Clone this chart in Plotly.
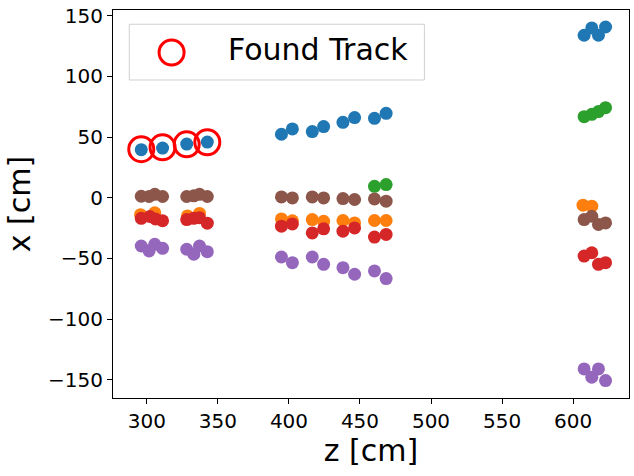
import plotly.graph_objects as go

# ---------------- data (z [cm], x [cm]) ----------------
blue_z = [296, 311, 328, 342.5, 394.7, 402.4, 416.4, 424.4, 438, 446.2, 460.2, 468.4, 607.8, 613.2, 617.9, 622.9]
blue_x = [39.6, 40.9, 44.2, 45.8, 52.3, 56.7, 54.5, 58.6, 62.1, 66.0, 65.4, 69.5, 133.9, 139.9, 133.9, 140.7]

orange_z = [295.5, 305.5, 328.5, 337, 394.7, 402.4, 416.4, 424.4, 438, 446.2, 460.2, 468.4, 607.0, 613.2]
orange_x = [-14, -12.5, -15, -13, -17.5, -19.0, -18.0, -19.4, -18.8, -20.8, -18.8, -18.8, -6.2, -7.0]

green_z = [460.2, 468.4, 607.8, 613.2, 617.9, 622.9]
green_x = [9.4, 10.8, 66.8, 68.7, 71.0, 74.2]

red_z = [296, 302, 306, 311, 328, 333, 337, 342.5, 394.7, 402.4, 416.4, 424.4, 438, 446.2, 460.2, 468.4, 607.8, 613.2, 617.9, 622.9]
red_x = [-17, -15.5, -17.5, -19, -18, -17, -16.5, -21, -23.5, -21.6, -29.0, -25.7, -27.6, -24.9, -32.5, -30.3, -48.1, -45.4, -54.9, -53.6]

purple_z = [296, 301.5, 305.5, 311, 328, 333, 337, 342.5, 394.7, 402.4, 416.4, 424.4, 438, 446.2, 460.2, 468.4, 607.8, 613.2, 617.9, 622.9]
purple_x = [-39.8, -43.9, -38.4, -41.7, -42.5, -46.6, -39.8, -44.5, -48.9, -53.6, -48.9, -54.9, -57.7, -63.1, -60.4, -66.7, -141.1, -148.0, -141.1, -150.7]

brown_z = [296, 301.5, 305.5, 311, 328, 333, 337, 342.5, 394.7, 402.4, 416.4, 424.4, 438, 446.2, 460.2, 468.4, 607.8, 613.2, 617.9, 622.9]
brown_x = [1.2, 1.0, 2.8, 1.0, 1.0, 1.5, 2.8, 1.0, 0.6, -0.2, 0.6, -0.2, -0.7, -1.5, -1.0, -2.9, -18.0, -15.3, -22.1, -20.8]

found_z = [296, 311, 328, 342.5]
found_x = [40.0, 41.5, 44.0, 45.7]

x_ticks = [300, 350, 400, 450, 500, 550, 600]
y_ticks = [-150, -100, -50, 0, 50, 100, 150]

series = [
    (blue_z, blue_x, "#1f77b4"),
    (orange_z, orange_x, "#ff7f0e"),
    (green_z, green_x, "#2ca02c"),
    (red_z, red_x, "#d62728"),
    (purple_z, purple_x, "#9467bd"),
    (brown_z, brown_x, "#8c564b"),
]

fig = go.Figure()
for zs, xs, col in series:
    fig.add_trace(go.Scatter(x=zs, y=xs, mode="markers", showlegend=False,
                             marker=dict(size=13, color=col, line=dict(width=0))))

fig.add_trace(go.Scatter(x=found_z, y=found_x, mode="markers", name="Found Track",
                         showlegend=False,
                         marker=dict(symbol="circle-open", size=25, color="#ff0000",
                                     line=dict(width=3, color="#ff0000"))))

# plot area in pixels: x 113..630, y 8..397.7
L, R, T, B = 113, 630, 8, 397.7
W, H = 634, 476
def px(x):
    return (x - L) / (R - L)
def py(y):
    return 1 - (y - T) / (B - T)

# custom legend (box, marker, label)
fig.add_shape(type="rect", xref="paper", yref="paper",
              x0=px(129.3), x1=px(425), y0=py(78.3), y1=py(22.3),
              line=dict(color="#d0d0d0", width=1), fillcolor="rgba(255,255,255,0.8)", layer="above")
fig.add_shape(type="circle", xref="paper", yref="paper", xsizemode="pixel", ysizemode="pixel",
              xanchor=px(171.7), yanchor=py(50.7), x0=-12.5, x1=12.5, y0=-12.5, y1=12.5,
              line=dict(color="#ff0000", width=3), layer="above")
fig.add_annotation(xref="paper", yref="paper", x=px(226), y=py(47.5), xanchor="left", yanchor="middle",
                   text="Found Track", showarrow=False,
                   font=dict(family="DejaVu Sans", size=30, color="black"))

axis_common = dict(showgrid=False, zeroline=False, showline=True, linecolor="black", linewidth=1,
                   mirror=True, ticks="outside", ticklen=5, tickwidth=1, tickcolor="black",
                   tickfont=dict(family="DejaVu Sans", size=20, color="black"))

fig.update_layout(
    width=W, height=H,
    margin=dict(l=L, r=W - R, t=T, b=H - B),
    paper_bgcolor="white", plot_bgcolor="white",
    font=dict(family="DejaVu Sans", color="black"),
    xaxis=dict(range=[276.1, 639.4], tickvals=x_ticks,
               title=dict(text="z [cm]", font=dict(size=30, family="DejaVu Sans"), standoff=6),
               **axis_common),
    yaxis=dict(range=[-165.1, 154.7], tickvals=y_ticks,
               title=dict(text="x [cm]", font=dict(size=30, family="DejaVu Sans"), standoff=8),
               **axis_common),
)

fig.write_html("out.html")
